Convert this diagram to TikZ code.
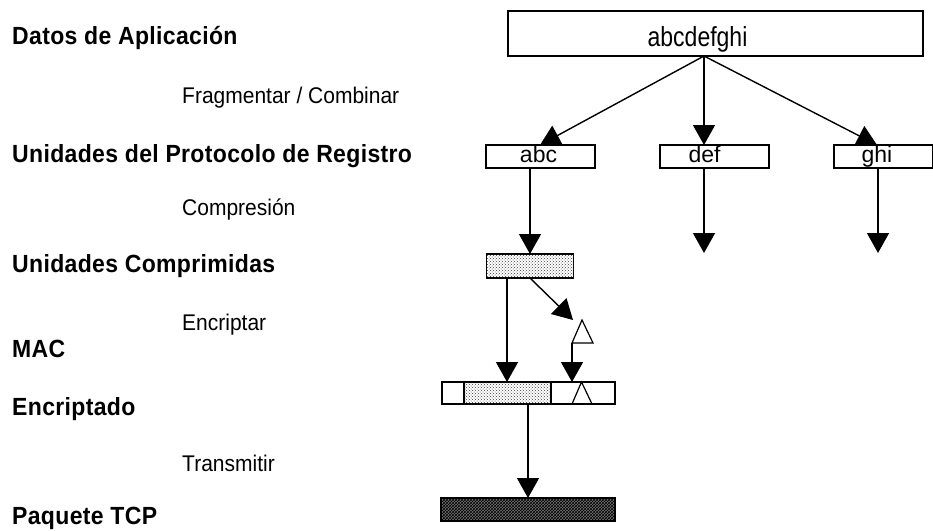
\documentclass[tikz,border=0pt]{standalone}
\usepackage{fontspec}
\setmainfont{Liberation Sans}
\newfontfamily\labbold{Liberation Sans}[LetterSpace=1.5,BoldFont={Liberation Sans Bold}]
\usetikzlibrary{arrows.meta,patterns}
\tikzset{
  layer/.style={anchor=base west,inner sep=0pt,font=\labbold\fontsize{23}{26}\selectfont\bfseries},
  stage/.style={anchor=base west,inner sep=0pt,font=\fontsize{21}{24}\selectfont},
  boxtext/.style={anchor=base,inner sep=0pt,font=\fontsize{23}{26}\selectfont},
  unit/.style={draw,line width=1.2pt,rectangle,inner sep=0pt,outer sep=0pt,fill=white},
  dotfill/.style={unit,postaction={pattern=crosshatch dots,pattern color=black!75}},
  hatchfill/.style={unit,fill=black!55,postaction={pattern=crosshatch,pattern color=black}},
  flow/.style={line width=1.4pt,-{Triangle[length=20pt,width=22pt]}}
}
\begin{document}
\begin{tikzpicture}[x=1pt,y=-1pt]
\useasboundingbox (0,0) rectangle (933,530);

% layer names on the left
\node[layer] (lData) at (12,44)  {\scalebox{1}[1.08]{Datos de Aplicación}};
\node[layer] (lReg)  at (12,162) {\scalebox{1}[1.08]{Unidades del Protocolo de Registro}};
\node[layer] (lComp) at (12,272) {\scalebox{1}[1.08]{Unidades Comprimidas}};
\node[layer] (lMac)  at (12,357) {\scalebox{1}[1.08]{MAC}};
\node[layer] (lEnc)  at (12,415) {\scalebox{1}[1.08]{Encriptado}};
\node[layer] (lTcp)  at (12,524) {\scalebox{1}[1.08]{Paquete TCP}};

% operations between layers
\node[stage] (sFrag) at (182,103) {\scalebox{1}[1.08]{Fragmentar / Combinar}};
\node[stage] (sComp) at (182,215) {\scalebox{1}[1.08]{Compresión}};
\node[stage] (sEnc)  at (182,330) {\scalebox{1}[1.08]{Encriptar}};
\node[stage] (sTx)   at (182,471) {\scalebox{1}[1.08]{Transmitir}};

% application data
\node[unit,minimum width=415pt,minimum height=45pt] (app) at (715.5,33.5) {};
\node[boxtext] (appT) at (697.5,46) {\scalebox{1}[1.2]{abcdefghi}};

% record fragments
\node[unit,minimum width=109pt,minimum height=23pt] (fa) at (540.5,156.5) {};
\node[unit,minimum width=109pt,minimum height=23pt] (fd) at (714.5,156.5) {};
\node[unit,minimum width=99pt,minimum height=23pt]  (fg) at (883.5,156.5) {};
\node[boxtext] (faT) at (538.5,162) {abc};
\node[boxtext] (fdT) at (704.5,162) {def};
\node[boxtext] (fgT) at (877,162) {ghi};

\coordinate (src) at ([xshift=-11.5pt]app.south);
\draw[flow] (src) -- ([xshift=-0.5pt]fa.north);
\draw[flow] (src) -- (src |- fd.north);
\draw[flow] (src) -- ([xshift=-6.5pt]fg.north);

% fragments that continue off the drawing
\coordinate (dEnd) at (704,253);
\coordinate (gEnd) at (878,253);
\draw[flow] (dEnd |- fd.south) -- (dEnd);
\draw[flow] (gEnd |- fg.south) -- (gEnd);

% compressed unit
\node[dotfill,minimum width=87pt,minimum height=24pt] (cmp) at (530,266) {};
\draw[flow] (cmp.north |- fa.south) -- (cmp.north);

% MAC
\coordinate (macL) at (572,343);
\coordinate (macR) at (593,343);
\coordinate (macA) at (582,320);
\draw[line width=1.2pt] (macL) -- (macA) -- (macR) -- cycle;
\draw[flow] (cmp.south) -- (573,320);

% encrypted record
\node[unit,minimum width=22pt,minimum height=22pt]  (e1) at (453,393) {};
\node[dotfill,minimum width=87pt,minimum height=22pt] (e2) at (507.5,393) {};
\node[unit,minimum width=64pt,minimum height=22pt]  (e3) at (583,393) {};
\draw[line width=1.2pt] (572,404) -- (581.5,382) -- (592,404);

\draw[flow] (507,278) -- (507,382);
\draw[flow] (macL) -- (macL |- e3.north);

% TCP packet
\node[hatchfill,minimum width=174pt,minimum height=23pt] (tcp) at (528,509.5) {};
\draw[flow] (528,404) -- (528,498);
\end{tikzpicture}
\end{document}
